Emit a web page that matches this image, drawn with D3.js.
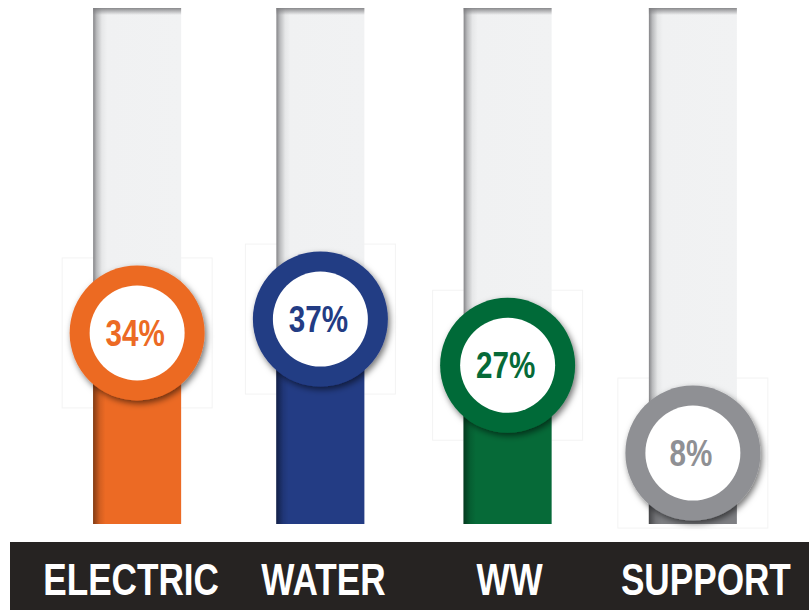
<!DOCTYPE html>
<html>
<head>
<meta charset="utf-8">
<script src="https://cdn.jsdelivr.net/npm/d3@7"></script>
<style>
  body { margin: 0; background: #fff; }
  svg { display: block; }
</style>
</head>
<body>
<svg id="chart" width="809" height="610"></svg>
<script>
// Chart data
const categories = ['ELECTRIC', 'WATER', 'WW', 'SUPPORT'];
const values = [34, 37, 27, 8];
const colors = ['#ec6a24', '#233c84', '#066a38', '#8f9094'];
const fillColors = ['#ec6a24', '#233c84', '#066a38', '#7e7f83'];

const svg = d3.select('#chart');
const width = 809;

// Layout
const barTop = 8, barBottom = 524;
const x = d3.scaleBand().domain(categories).range([0, width]);
const barW = 88;
// bar centres sit a little off the band centres
const shift = [36, 17, 2, -15];
const cx = d => x(d) + x.bandwidth() / 2 + shift[categories.indexOf(d)];
const y = d3.scaleLinear().domain([0, 100]).range([490, 28]);

const defs = svg.append('defs');

// tube gradient (shadow on the left)
const tube = defs.append('linearGradient').attr('id', 'tube').attr('x1', 0).attr('x2', 1).attr('y1', 0).attr('y2', 0);
tube.append('stop').attr('offset', '0%').attr('stop-color', '#858588');
tube.append('stop').attr('offset', '4%').attr('stop-color', '#b9babc');
tube.append('stop').attr('offset', '10%').attr('stop-color', '#e6e7e8');
tube.append('stop').attr('offset', '16%').attr('stop-color', '#f0f1f2');
tube.append('stop').attr('offset', '100%').attr('stop-color', '#f1f2f3');

const topShade = defs.append('linearGradient').attr('id', 'topShade').attr('x1', 0).attr('x2', 0).attr('y1', 0).attr('y2', 1);
topShade.append('stop').attr('offset', '0%').attr('stop-color', '#7d7d80').attr('stop-opacity', 0.9);
topShade.append('stop').attr('offset', '100%').attr('stop-color', '#7d7d80').attr('stop-opacity', 0);

const leftShade = defs.append('linearGradient').attr('id', 'leftShade').attr('x1', 0).attr('x2', 1).attr('y1', 0).attr('y2', 0);
leftShade.append('stop').attr('offset', '0%').attr('stop-color', '#000').attr('stop-opacity', 0.45);
leftShade.append('stop').attr('offset', '8%').attr('stop-color', '#000').attr('stop-opacity', 0.1);
leftShade.append('stop').attr('offset', '14%').attr('stop-color', '#000').attr('stop-opacity', 0);

const shadow = defs.append('filter').attr('id', 'shadow')
  .attr('x', '-30%').attr('y', '-30%').attr('width', '160%').attr('height', '160%');
shadow.append('feDropShadow').attr('dx', 2).attr('dy', 3).attr('stdDeviation', 3)
  .attr('flood-color', '#000').attr('flood-opacity', 0.55);

const g = svg.selectAll('.item')
  .data(categories)
  .enter()
  .append('g')
  .attr('class', 'item');

// faint image boxes behind the circles
g.append('rect')
  .attr('x', d => cx(d) - 75)
  .attr('y', (d, i) => y(values[i]) - 75)
  .attr('width', 150).attr('height', 150)
  .attr('fill', 'none')
  .attr('stroke', '#f3f3f3')
  .attr('stroke-width', 1);

// empty tube
g.append('rect')
  .attr('x', d => cx(d) - barW / 2)
  .attr('y', barTop)
  .attr('width', barW)
  .attr('height', barBottom - barTop)
  .attr('fill', 'url(#tube)');

g.append('rect')
  .attr('x', d => cx(d) - barW / 2)
  .attr('y', barTop)
  .attr('width', barW)
  .attr('height', 7)
  .attr('fill', 'url(#topShade)');

// filled part
g.append('rect')
  .attr('x', d => cx(d) - barW / 2)
  .attr('y', (d, i) => y(values[i]))
  .attr('width', barW)
  .attr('height', (d, i) => barBottom - y(values[i]))
  .attr('fill', (d, i) => fillColors[i]);

g.append('rect')
  .attr('x', d => cx(d) - barW / 2)
  .attr('y', (d, i) => y(values[i]))
  .attr('width', barW)
  .attr('height', (d, i) => barBottom - y(values[i]))
  .attr('fill', 'url(#leftShade)');

// ring
g.append('circle')
  .attr('cx', d => cx(d))
  .attr('cy', (d, i) => y(values[i]))
  .attr('r', 67.5)
  .attr('fill', (d, i) => colors[i])
  .attr('filter', 'url(#shadow)');

g.append('circle')
  .attr('cx', d => cx(d))
  .attr('cy', (d, i) => y(values[i]))
  .attr('r', 47.5)
  .attr('fill', '#fff');

g.append('text')
  .attr('transform', (d, i) => `translate(${cx(d) - 2},${y(values[i]) + 13}) scale(0.8,1)`)
  .attr('text-anchor', 'middle')
  .attr('font-family', 'Liberation Sans, Arial, sans-serif')
  .attr('font-weight', 'bold')
  .attr('font-size', 37)
  .attr('fill', (d, i) => colors[i])
  .text((d, i) => values[i] + '%');

// bottom label band
svg.append('rect')
  .attr('x', 10).attr('y', 542)
  .attr('width', width - 10).attr('height', 68)
  .attr('fill', '#262322');

svg.selectAll('.label')
  .data(categories)
  .enter()
  .append('text')
  .attr('class', 'label')
  .attr('transform', (d, i) => `translate(${cx(d) + [-6, 3, 2, 13][i]},595) scale(0.79,1)`)
  .attr('text-anchor', 'middle')
  .attr('font-family', 'Liberation Sans, Arial, sans-serif')
  .attr('font-weight', 'bold')
  .attr('font-size', 44.5)
  .attr('fill', '#fff')
  .text(d => d);
</script>
</body>
</html>
